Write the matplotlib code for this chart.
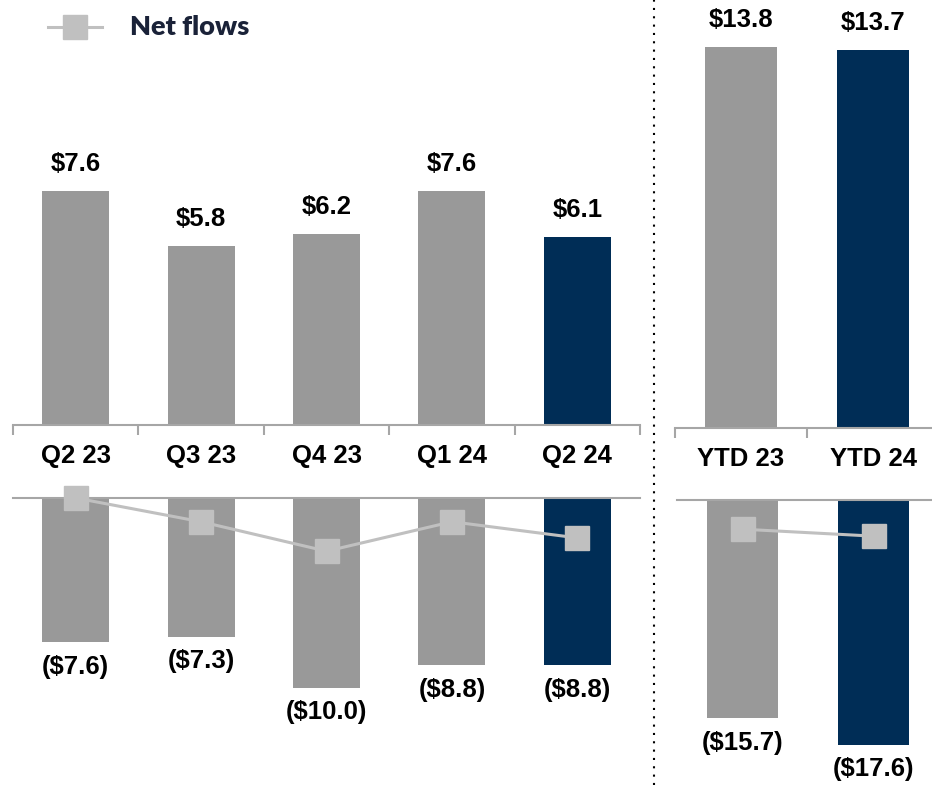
import matplotlib
matplotlib.use("Agg")
import matplotlib.pyplot as plt
from matplotlib.lines import Line2D

plt.rcParams['font.family'] = ['Liberation Sans', 'DejaVu Sans']

# data ($B)
quarters = ['Q2 23', 'Q3 23', 'Q4 23', 'Q1 24', 'Q2 24']
q_inflows = [7.6, 5.8, 6.2, 7.6, 6.1]
q_outflows = [-7.6, -7.3, -10.0, -8.8, -8.8]
q_net_marks = [0.0, -1.25, -2.8, -1.25, -2.1]   # marker positions as drawn

ytd = ['YTD 23', 'YTD 24']
ytd_inflows = [13.8, 13.7]
ytd_outflows = [-15.7, -17.6]
ytd_net_marks = [-2.1, -2.6]

GRAY = '#999999'
NAVY = '#002D56'
AXIS = '#A6A6A6'
NETC = '#C0C0C0'
FS = 18.5

W, H = 932, 785
fig = plt.figure(figsize=(W / 100, H / 100), dpi=100)


def rect(x0, y0, x1, y1):
    return [x0 / W, 1 - y1 / H, (x1 - x0) / W, (y1 - y0) / H]


def fmt_pos(v):
    return f'${v:.1f}'


def fmt_neg(v):
    return f'(${abs(v):.1f})'


def top_panel(r, labels, vals, px_per_unit, height_px, bar_w):
    ax = fig.add_axes(r)
    n = len(labels)
    colors = [GRAY] * (n - 1) + [NAVY]
    x = list(range(n))
    ax.bar(x, vals, bar_w, color=colors)
    ax.set_xlim(-0.5, n - 0.5)
    ax.set_ylim(0, height_px / px_per_unit)
    for s in ['top', 'left', 'right']:
        ax.spines[s].set_visible(False)
    ax.spines['bottom'].set_color(AXIS)
    ax.spines['bottom'].set_linewidth(1.5)
    ax.set_yticks([])
    ax.set_xticks(x)
    ax.set_xticklabels(labels, fontsize=FS, fontweight='bold')
    ax.tick_params(axis='x', which='major', length=0, pad=14)
    ax.set_xticks([i - 0.5 for i in range(n + 1)], minor=True)
    ax.tick_params(axis='x', which='minor', length=7, width=1.5, color=AXIS)
    for xi, v in zip(x, vals):
        ax.annotate(fmt_pos(v), (xi, v), xytext=(0, 11), textcoords='offset points',
                    ha='center', va='bottom', fontsize=FS, fontweight='bold')
    return ax


def bottom_panel(r, vals, marks, px_per_unit, height_px, bar_w):
    ax = fig.add_axes(r)
    n = len(vals)
    colors = [GRAY] * (n - 1) + [NAVY]
    x = list(range(n))
    ax.bar(x, vals, bar_w, color=colors)
    ax.plot(x, marks, color=NETC, lw=2.2, marker='s', ms=17, clip_on=False, zorder=5)
    ax.set_xlim(-0.5, n - 0.5)
    ax.set_ylim(-height_px / px_per_unit, 0)
    for s in ['bottom', 'left', 'right']:
        ax.spines[s].set_visible(False)
    ax.spines['top'].set_color(AXIS)
    ax.spines['top'].set_linewidth(1.5)
    ax.set_xticks([])
    ax.set_yticks([])
    for xi, v in zip(x, vals):
        ax.annotate(fmt_neg(v), (xi, v), xytext=(0, -9), textcoords='offset points',
                    ha='center', va='top', fontsize=FS, fontweight='bold')
    return ax


top_panel(rect(13, 0, 640, 425), quarters, q_inflows, 30.8, 425, 0.535)
bottom_panel(rect(13, 498, 640, 785), q_outflows, q_net_marks, 19.0, 287, 0.535)
top_panel(rect(675, 0, 939, 428), ytd, ytd_inflows, 27.6, 428, 0.545)
bottom_panel(rect(677, 500, 939, 785), ytd_outflows, ytd_net_marks, 13.9, 285, 0.545)

# dotted divider
fig.add_artist(Line2D([654 / W, 654 / W], [0, 1], color='black', lw=1.5,
                      linestyle=(0, (1, 3)), transform=fig.transFigure))

# legend
fig.add_artist(Line2D([48 / W, 102 / W], [1 - 27 / H] * 2, color=NETC, lw=2.2,
                      transform=fig.transFigure))
fig.add_artist(Line2D([75 / W], [1 - 27 / H], color=NETC, marker='s', ms=17,
                      linestyle='none', transform=fig.transFigure))
fig.text(130 / W, 1 - 27 / H, 'Net flows', fontsize=19.5, fontweight='heavy',
         color='#1A2238', va='center', ha='left', family=['Lato', 'DejaVu Sans'])

fig.savefig('out.png', dpi=100, facecolor='white')
